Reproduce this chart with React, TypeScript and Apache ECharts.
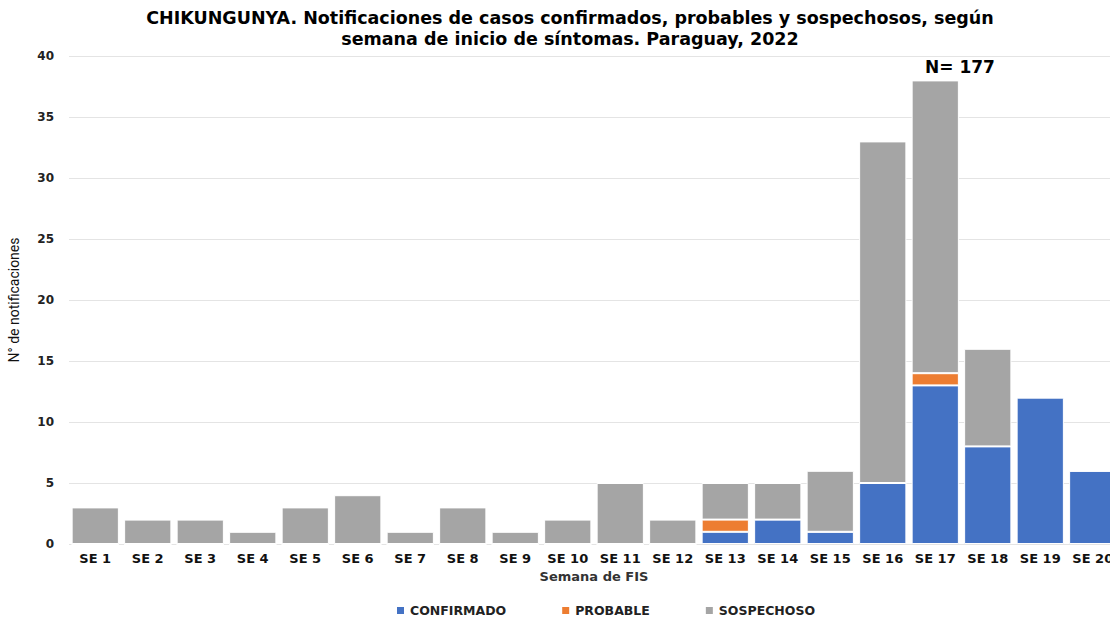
import React, { useEffect, useRef } from "react";
import * as echarts from "echarts";

const categories = ["SE 1","SE 2","SE 3","SE 4","SE 5","SE 6","SE 7","SE 8","SE 9","SE 10","SE 11","SE 12","SE 13","SE 14","SE 15","SE 16","SE 17","SE 18","SE 19","SE 20"];
const confirmado = [0,0,0,0,0,0,0,0,0,0,0,0,1,2,1,5,13,8,12,6];
const probable =   [0,0,0,0,0,0,0,0,0,0,0,0,1,0,0,0,1,0,0,0];
const sospechoso = [3,2,2,1,3,4,1,3,1,2,5,2,3,3,5,28,24,8,0,0];
const yTicks = [0, 5, 10, 15, 20, 25, 30, 35, 40];

const FONT = "DejaVu Sans";

export default function App() {
  const ref = useRef<HTMLDivElement>(null);
  useEffect(() => {
    document.body.style.margin = "0";
    const chart = echarts.init(ref.current!, null, { renderer: "svg" });
    const mk = (name: string, data: number[], color: string) => ({
      name,
      type: "bar",
      stack: "total",
      data,
      barCategoryGap: "10%",
      itemStyle: { color, borderColor: "#ffffff", borderWidth: 1 },
    });
    chart.setOption({
      animation: false,
      backgroundColor: "#ffffff",
      title: {
        text: "CHIKUNGUNYA. Notificaciones de casos confirmados, probables y sospechosos, según\nsemana de inicio de síntomas. Paraguay, 2022",
        left: 565,
        textAlign: "center",
        top: 2,
        textStyle: { fontFamily: FONT, fontWeight: "bold", fontSize: 17.5, color: "#000", lineHeight: 21 },
      },
      legend: {
        left: 395,
        top: 604,
        padding: 0,
        itemWidth: 9,
        itemHeight: 9,
        itemGap: 54,
        icon: "rect",
        textStyle: { fontFamily: FONT, fontWeight: "bold", fontSize: 12.5, color: "#222" },
        data: ["CONFIRMADO", "PROBABLE", "SOSPECHOSO"],
      },
      grid: { left: 69, width: 1050, top: 56, bottom: 73, containLabel: false, outerBoundsMode: "none" },
      xAxis: {
        type: "category",
        data: categories,
        axisTick: { show: false },
        axisLine: { show: false },
        axisLabel: { fontFamily: FONT, fontWeight: "bold", fontSize: 13, color: "#111", margin: 8, interval: 0 },
        name: "Semana de FIS",
        nameLocation: "middle",
        nameGap: 20,
        nameTextStyle: { fontFamily: FONT, fontWeight: "bold", fontSize: 13, color: "#333" },
      },
      yAxis: {
        type: "value",
        min: yTicks[0],
        max: yTicks[yTicks.length - 1],
        interval: 5,
        axisLabel: { fontFamily: FONT, fontWeight: "bold", fontSize: 12, color: "#222", margin: 15 },
        splitLine: { lineStyle: { color: "#e4e4e4", width: 1 } },
        name: "N° de notificaciones",
        nameLocation: "middle",
        nameGap: 48,
        nameTextStyle: { fontFamily: "Liberation Sans Narrow, Roboto", fontSize: 14, color: "#111" },
      },
      graphic: [
        {
          type: "text",
          left: 925,
          top: 58,
          style: { text: "N= 177", fontFamily: FONT, fontWeight: "bold", fontSize: 17, fill: "#000" },
        },
      ],
      series: [
        mk("CONFIRMADO", confirmado, "#4472C4"),
        mk("PROBABLE", probable, "#ED7D31"),
        mk("SOSPECHOSO", sospechoso, "#A5A5A5"),
      ],
    });
    return () => chart.dispose();
  }, []);
  return <div ref={ref} style={{ width: 1110, height: 617 }} />;
}
